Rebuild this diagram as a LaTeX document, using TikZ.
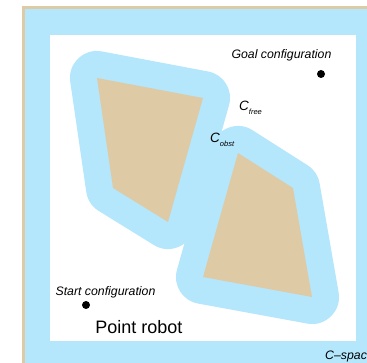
\documentclass[tikz,border=0pt]{standalone}
\usepackage{fontspec}
\setmainfont{Liberation Sans}
\definecolor{cblue}{RGB}{180,230,252}
\definecolor{ctan}{RGB}{222,203,166}
\tikzset{
  lbl/.style={inner sep=0pt, font=\fontsize{12.3}{13}\selectfont\itshape},
  dotmark/.style={circle, fill=black, inner sep=0pt, minimum size=8pt},
  padding/.style={draw=cblue, fill=cblue, line width=54pt, line join=round},
  obstacle/.style={fill=ctan},
}
\begin{document}
\begin{tikzpicture}[x=1pt,y=-1pt]
\useasboundingbox (0,0) rectangle (367,363);
\clip (0,0) rectangle (367,363);
% outer C-space frame
\fill[ctan] (22,6) rectangle (420,420);
\fill[cblue] (25,9) rectangle (420,420);
\fill[white] (50,35) rectangle (356,341);
% obstacle padding (C_obst)
\path[padding] (97,78) -- (203,98) -- (168,222) -- (113,188) -- cycle;
\path[padding] (238,153) -- (293,188) -- (312,297) -- (203,277) -- cycle;
% obstacles
\fill[obstacle] (97,78) -- (203,98) -- (168,222) -- (113,188) -- cycle;
\fill[obstacle] (238,153) -- (293,188) -- (312,297) -- (203,277) -- cycle;
% labels
\node[lbl] (goal) at (281.5,55) {Goal configuration};
\node[dotmark] (goaldot) at (321,74) {};
\node[lbl] (start) at (105.5,292) {Start configuration};
\node[dotmark] (startdot) at (86,305) {};
\node[inner sep=0pt, font=\fontsize{18}{20}\selectfont] (robot) at (139,327) {Point robot};
\node[lbl, anchor=west] (cspace) at (325,356) {C--space};
\node[inner sep=0pt, anchor=west, font=\fontsize{13.5}{14}\selectfont\itshape] (cfree) at (239,108)
  {C\raisebox{-3.5pt}{\fontsize{7.5}{8}\selectfont free}};
\node[inner sep=0pt, anchor=west, font=\fontsize{13.5}{14}\selectfont\itshape] (cobst) at (210,140)
  {C\raisebox{-3.5pt}{\fontsize{7.5}{8}\selectfont obst}};
\end{tikzpicture}
\end{document}
